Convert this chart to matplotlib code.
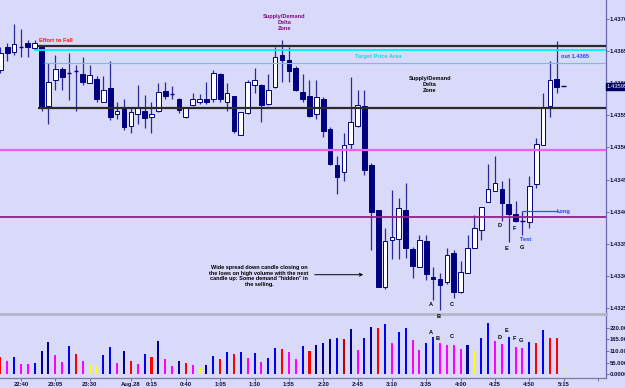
import matplotlib
matplotlib.use('Agg')
import matplotlib.pyplot as plt
import numpy as np

# ---------------- data ----------------
opens = [1.43621, 1.43657, 1.43648, 1.43657, 1.43662, 1.43655, 1.43657, 1.43564, 1.43605, 1.43622,
         1.43617, 1.43620, 1.43615, 1.43601, 1.43607, 1.43571, 1.43592, 1.43552, 1.43560, 1.43533,
         1.43552, 1.43557, 1.43547, 1.43556, 1.43588, 1.43583, 1.43576, 1.43547, 1.43566, 1.43571,
         1.43575, 1.43575, 1.43615, 1.43571, 1.43580, 1.43520, 1.43553, 1.43597, 1.43597, 1.43567,
         1.43594, 1.43644, 1.43636, 1.43623, 1.43586, 1.43580, 1.43552, 1.43576, 1.43529, 1.43472,
         1.43461, 1.43506, 1.43533, 1.43564, 1.43473, 1.43403, 1.43283, 1.43356, 1.43358, 1.43403,
         1.43341, 1.43314, 1.43354, 1.43298, 1.43295, 1.43291, 1.43335, 1.43275, 1.43305, 1.43344,
         1.43371, 1.43415, 1.43432, 1.43435, 1.43412, 1.43396, 1.43386, 1.43384, 1.43443, 1.43504,
         1.43564, 1.43607, 1.43595]
highs = [1.43657, 1.43663, 1.43692, 1.43685, 1.43668, 1.43668, 1.43658, 1.43631, 1.43644, 1.43626,
         1.43647, 1.43628, 1.43641, 1.43628, 1.43611, 1.43611, 1.43635, 1.43571, 1.43576, 1.43562,
         1.43597, 1.43581, 1.43571, 1.43601, 1.43602, 1.43595, 1.43577, 1.43563, 1.43585, 1.43583,
         1.43602, 1.43621, 1.43616, 1.43600, 1.43580, 1.43555, 1.43605, 1.43623, 1.43599, 1.43615,
         1.43657, 1.43667, 1.43657, 1.43627, 1.43614, 1.43605, 1.43605, 1.43579, 1.43532, 1.43486,
         1.43522, 1.43609, 1.43590, 1.43590, 1.43475, 1.43403, 1.43374, 1.43434, 1.43421, 1.43445,
         1.43345, 1.43364, 1.43364, 1.43314, 1.43305, 1.43344, 1.43340, 1.43323, 1.43364, 1.43395,
         1.43407, 1.43474, 1.43487, 1.43448, 1.43452, 1.43417, 1.43401, 1.43455, 1.43514, 1.43585,
         1.43635, 1.43665, 1.43595]
lows = [1.43616, 1.43635, 1.43644, 1.43641, 1.43641, 1.43652, 1.43557, 1.43536, 1.43589, 1.43590,
        1.43574, 1.43557, 1.43597, 1.43600, 1.43571, 1.43571, 1.43542, 1.43544, 1.43527, 1.43523,
        1.43537, 1.43531, 1.43523, 1.43555, 1.43575, 1.43575, 1.43554, 1.43546, 1.43564, 1.43568,
        1.43568, 1.43571, 1.43571, 1.43557, 1.43522, 1.43519, 1.43552, 1.43584, 1.43539, 1.43566,
        1.43592, 1.43602, 1.43602, 1.43588, 1.43571, 1.43548, 1.43544, 1.43516, 1.43472, 1.43427,
        1.43447, 1.43496, 1.43532, 1.43457, 1.43340, 1.43283, 1.43279, 1.43326, 1.43326, 1.43327,
        1.43296, 1.43313, 1.43293, 1.43262, 1.43247, 1.43288, 1.43266, 1.43273, 1.43305, 1.43344,
        1.43355, 1.43415, 1.43432, 1.43386, 1.43353, 1.43384, 1.43364, 1.43375, 1.43436, 1.43504,
        1.43547, 1.43584, 1.43595]
closes = [1.43647, 1.43647, 1.43661, 1.43656, 1.43657, 1.43662, 1.43561, 1.43602, 1.43622, 1.43610,
          1.43616, 1.43619, 1.43602, 1.43612, 1.43575, 1.43590, 1.43547, 1.43557, 1.43532, 1.43555,
          1.43561, 1.43546, 1.43552, 1.43586, 1.43580, 1.43582, 1.43558, 1.43562, 1.43575, 1.43576,
          1.43571, 1.43616, 1.43575, 1.43584, 1.43525, 1.43555, 1.43602, 1.43605, 1.43566, 1.43590,
          1.43641, 1.43636, 1.43619, 1.43589, 1.43575, 1.43549, 1.43579, 1.43526, 1.43474, 1.43454,
          1.43503, 1.43539, 1.43566, 1.43465, 1.43400, 1.43283, 1.43354, 1.43360, 1.43405, 1.43344,
          1.43315, 1.43356, 1.43303, 1.43295, 1.43285, 1.43333, 1.43275, 1.43306, 1.43344, 1.43374,
          1.43407, 1.43435, 1.43444, 1.43413, 1.43396, 1.43386, 1.43385, 1.43440, 1.43506, 1.43562,
          1.43605, 1.43594, 1.43595]
volumes = [83, 64, 83, 47, 47, 55, 111, 152, 91, 59,
           135, 94, 64, 44, 41, 90, 127, 55, 111, 64,
           50, 96, 82, 156, 71, 39, 63, 52, 44, 28,
           44, 86, 74, 105, 97, 104, 77, 102, 59, 75,
           126, 118, 107, 72, 134, 111, 137, 149, 165, 170,
           165, 212, 115, 173, 225, 217, 237, 149, 200, 220,
           162, 115, 149, 176, 146, 137, 137, 121, 140, 110,
           171, 244, 157, 142, 177, 129, 126, 154, 149, 209,
           173, 173, 5]
vol_class = ['red', 'magenta', 'blue', 'magenta', 'magenta', 'blue', 'navy', 'navy', 'magenta', 'magenta',
             'blue', 'red', 'magenta', 'yellow', 'yellow', 'blue', 'blue', 'magenta', 'navy', 'red',
             'magenta', 'blue', 'red', 'navy', 'magenta', 'magenta', 'navy', 'red', 'magenta', 'yellow',
             'navy', 'blue', 'red', 'blue', 'red', 'blue', 'magenta', 'blue', 'magenta', 'blue',
             'blue', 'red', 'magenta', 'magenta', 'blue', 'red', 'navy', 'navy', 'navy', 'blue',
             'darkred', 'navy', 'magenta', 'blue', 'navy', 'red', 'blue', 'magenta', 'blue', 'blue',
             'magenta', 'magenta', 'blue', 'blue', 'magenta', 'magenta', 'magenta', 'magenta', 'navy', 'yellow',
             'blue', 'blue', 'magenta', 'magenta', 'blue', 'magenta', 'magenta', 'blue', 'red', 'blue',
             'red', 'red', 'yellow']
tick_idx = [4, 9, 14, 20, 23, 28, 33, 38, 43, 48, 53, 58, 63, 68, 73, 78, 83, 88]
tick_labels = ['22:40', '23:05', '23:30', 'Aug.28', '0:15', '0:40', '1:05', '1:30', '1:55',
               '2:20', '2:45', '3:10', '3:35', '4:00', '4:25', '4:50', '5:15', '']
price_ticks = [1.4325, 1.4330, 1.4335, 1.4340, 1.4345, 1.4350, 1.4355, 1.4360, 1.4365, 1.4370]
vol_ticks = [0, 55, 110, 165, 220]
vol_tick_labels = ['0.0000', '55.0000', '110.000', '165.000', '220.000']

zone_top = 1.43658
zone_bottom = 1.43562
target_high = 1.43652
target_low = 1.43631
level_magenta = 1.43496
level_purple = 1.43392
long_level = 1.43401

# ---------------- style ----------------
W, H = 625, 388
BG = '#d9d9f9'
NAVY = '#00007f'
WICK = '#2a2a96'
FONT = 'Liberation Sans'
vol_colors = {'red': '#ff0000', 'magenta': '#ff00ff', 'blue': '#0000ff', 'navy': '#00008b',
              'yellow': '#ffff00', 'darkred': '#c00000'}

fig = plt.figure(figsize=(W / 100, H / 100), dpi=100, facecolor=BG)
plt.rcParams['font.family'] = [FONT, 'DejaVu Sans']

px_per_bar = 6.87
x_left = 0.95
plot_w = 605.7
x_right = x_left + plot_w / px_per_bar

ax = fig.add_axes([0, 1 - 314 / H, plot_w / W, 314 / H])
vax = fig.add_axes([0, 1 - 377.7 / H, plot_w / W, (377.7 - 315.5) / H])
for a in (ax, vax):
    a.set_facecolor(BG)
    a.set_xlim(x_left, x_right)
    for s in ('left', 'top'):
        a.spines[s].set_visible(False)
    a.spines['right'].set_color('#6a6ab4')
    a.spines['right'].set_linewidth(0.9)

ax.set_ylim(1.432405, 1.437296)
vax.set_ylim(-16, 277.5)

x = np.arange(1, len(opens) + 1)
o = np.array(opens); c = np.array(closes); hi = np.array(highs); lo = np.array(lows)

# wicks
ax.vlines(x, lo, hi, color=WICK, lw=0.9, zorder=2)
bw = 0.68
for xi, oi, ci in zip(x, o, c):
    if abs(ci - oi) < 0.000025:
        ax.hlines((oi + ci) / 2, xi - bw / 2, xi + bw / 2, color=NAVY, lw=1.0, zorder=3)
    else:
        up = ci > oi
        ax.bar(xi, abs(ci - oi), bottom=min(oi, ci), width=bw,
               color='white' if up else NAVY, edgecolor=NAVY,
               linewidth=0.7, zorder=3)

# levels
ax.hlines([zone_top, zone_bottom], 6.45, x_right, color='#2a2a2a', lw=1.6, zorder=4)
ax.hlines(target_high, 5.85, x_right, color='#00f0f0', lw=1.3, zorder=4)
ax.hlines(target_low, 7.3, x_right, color='#20e8f0', lw=0.8, zorder=4)
ax.axhline(level_magenta, color='#f060f0', lw=1.6, zorder=4)
ax.axhline(level_purple, color='#a0188c', lw=1.3, zorder=4)
ax.hlines(long_level, 77, 82.1, color='#2f4fff', lw=0.9, zorder=4)

TICKFONT = dict(labelsize=4.2, labelcolor='#101040')
# price axis
ax.yaxis.tick_right()
ax.set_yticks(price_ticks)
ax.set_yticklabels(['%.5f' % t for t in price_ticks])
ax.tick_params(axis='y', length=2.2, width=0.7, color='#6a6ab4', pad=0.6, **TICKFONT)
ax.set_xticks([])
ax.spines['bottom'].set_color('#b4b4c8')
ax.spines['bottom'].set_linewidth(2.0)

# current price box
last = closes[-1]
ax.text(1.0015, last, '%.5f' % last, transform=ax.get_yaxis_transform(), ha='left', va='center',
        fontsize=4.2, color='white', clip_on=False, zorder=10,
        bbox=dict(boxstyle='square,pad=0.15', fc='#000060', ec='#000060'))

# volume
vax.bar(x, volumes, width=0.3, color=[vol_colors[k] for k in vol_class], zorder=3)
vax.yaxis.tick_right()
vax.set_yticks(vol_ticks)
vax.set_yticklabels(vol_tick_labels)
vax.tick_params(axis='y', length=2.2, width=0.7, color='#6a6ab4', pad=0.6, **TICKFONT)
vax.set_xticks(tick_idx)
vax.set_xticklabels(tick_labels)
vax.tick_params(axis='x', length=2, width=0.7, color='#6a6ab4', pad=0.8, **TICKFONT)
for lab in vax.get_xticklabels() + vax.get_yticklabels() + ax.get_yticklabels():
    lab.set_fontweight('bold')
vax.spines['bottom'].set_color('#7a7aa8')
vax.spines['bottom'].set_linewidth(0.9)

# ---------------- annotations (pixel positions) ----------------
def t(xp, yp, s, **kw):
    kw.setdefault('fontsize', 4.1)
    kw.setdefault('ha', 'center')
    kw.setdefault('va', 'center')
    kw.setdefault('fontweight', 'bold')
    fig.text(xp / W, 1 - yp / H, s, zorder=20, **kw)

t(39, 40.7, 'Effort to Fall', color='#ff1010', ha='left')
t(284.5, 22.7, 'Supply/Demand\nDelta\nZone', color='#7a0a7a', linespacing=1.2)
t(378, 56.7, 'Target Price Area', color='#00e0e8')
t(429.7, 84.5, 'Supply/Demand\nDelta\nZone', color='black', linespacing=1.2)
t(561, 56, 'out 1.4365', color='#2040ff', ha='left')
t(557, 211.3, 'Long', color='#2040ff', ha='left')
t(526, 239.3, 'Test', color='#2040ff')
t(259, 276, 'Wide spread down candle closing on\nthe lows on high volume with the next\n'
            'candle up: Some demand "hidden" in\nthe selling.', color='black',
  linespacing=1.15, fontsize=4.0)
for xp, yp, s in [(431, 305, 'A'), (438.7, 317, 'B'), (452.3, 304.3, 'C'), (500, 225, 'D'),
                  (506.7, 248.7, 'E'), (514.3, 228.3, 'F'), (522.3, 247.3, 'G'),
                  (430.7, 332, 'A'), (438, 339, 'B'), (452.3, 337, 'C'), (500, 337.7, 'D'),
                  (506.7, 330, 'E'), (514.3, 339, 'F'), (521, 340.7, 'G')]:
    t(xp, yp, s, color='black')

fig.add_artist(matplotlib.patches.FancyArrowPatch(
    (312 / W, 1 - 274.7 / H), (366 / W, 1 - 274.7 / H), transform=fig.transFigure,
    arrowstyle='->', mutation_scale=5, color='black', lw=0.7, zorder=20))

fig.savefig('out.png', dpi=100, facecolor=BG)
